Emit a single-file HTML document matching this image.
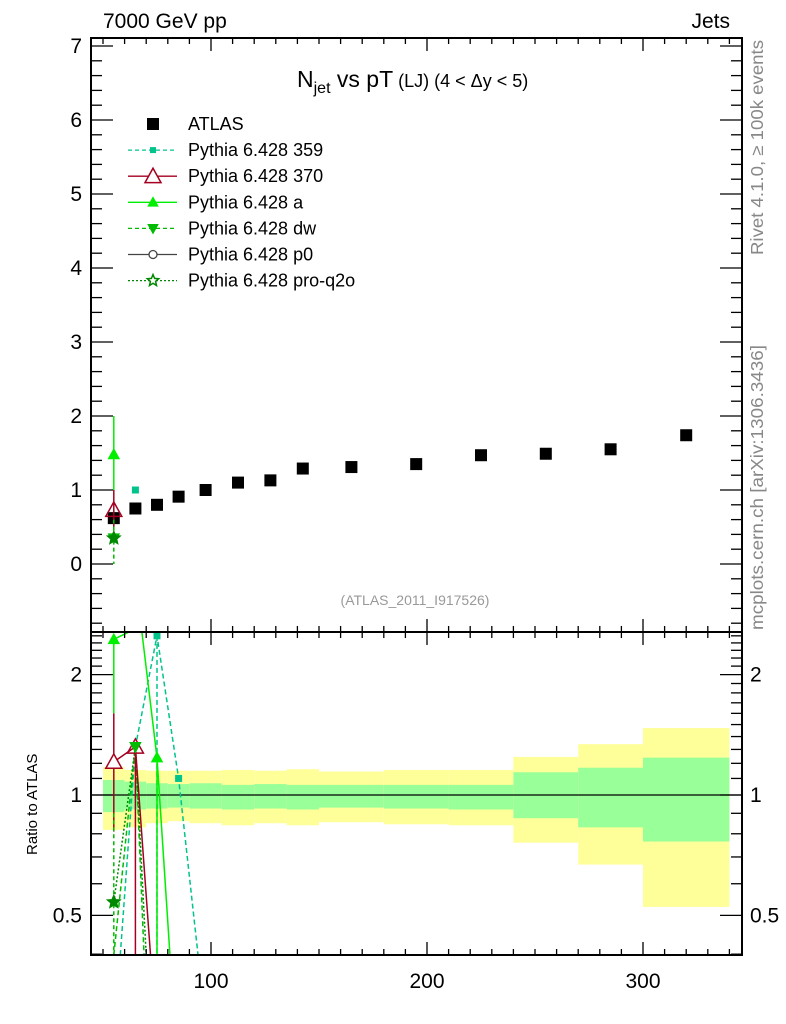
<!DOCTYPE html>
<html><head><meta charset="utf-8"><style>
body{margin:0;background:#fff;}
svg{display:block;font-family:"Liberation Sans",sans-serif;}
</style></head><body>
<svg id="chart" width="786" height="1024" viewBox="0 0 786 1024" xmlns="http://www.w3.org/2000/svg">
<text x="103" y="28" font-size="21">7000 GeV pp</text>
<text x="730" y="28" font-size="21" text-anchor="end">Jets</text>
<text x="297" y="87" font-size="23">N<tspan font-size="16" dy="6">jet</tspan><tspan dy="-6"> vs pT</tspan><tspan font-size="18"> (LJ) (4 &lt; Δy &lt; 5)</tspan></text>
<text transform="translate(763,255) rotate(-90)" font-size="17.5" fill="#888" textLength="215" lengthAdjust="spacingAndGlyphs">Rivet 4.1.0, ≥ 100k events</text>
<text transform="translate(763,630) rotate(-90)" font-size="17.5" fill="#888" textLength="285" lengthAdjust="spacingAndGlyphs">mcplots.cern.ch [arXiv:1306.3436]</text>
<text x="415" y="605" font-size="14" fill="#999" text-anchor="middle">(ATLAS_2011_I917526)</text>
<text transform="translate(37,855) rotate(-90)" font-size="15">Ratio to ATLAS</text>
<g id="bands"></g><g id="marks"></g><g id="axes"></g><g id="legend"></g>
</svg>
<script>
// data
const binEdges=[50,60,70,80,90,105,120,135,150,180,210,240,270,300,340];
const binCenters=[55,65,75,85,97.5,112.5,127.5,142.5,165,195,225,255,285,320];
const atlasValues=[0.62,0.75,0.80,0.91,1.00,1.10,1.13,1.29,1.31,1.35,1.47,1.49,1.55,1.74];
const yellowUp=[1.175,1.155,1.15,1.15,1.15,1.155,1.15,1.16,1.145,1.155,1.155,1.245,1.34,1.47];
const yellowDn=[0.818,0.83,0.85,0.86,0.85,0.84,0.85,0.84,0.855,0.845,0.84,0.76,0.67,0.525];
const greenUp=[1.09,1.08,1.07,1.065,1.07,1.06,1.065,1.06,1.06,1.06,1.06,1.14,1.17,1.24];
const greenDn=[0.906,0.92,0.925,0.93,0.925,0.92,0.925,0.92,0.93,0.925,0.92,0.875,0.83,0.765];
// MC main-panel points
const mcMainX=[55,55,55,55,65];
const mcMainY=[1.48,0.73,0.35,0.35,1.0];
// ratio polylines (x, ratio); values below axis clipped
const r359X=[58,65,75,85,94];const r359Y=[0.3,1.32,2.5,1.1,0.3];
const r370X=[55,65,72];const r370Y=[1.21,1.32,0.3];
const raX=[55,62,68,75,81];const raY=[2.45,2.7,2.7,1.24,0.3];
const rdwX=[55,65,69];const rdwY=[0.3,1.32,0.3];
const rq2oX=[55,65,70];const rq2oY=[0.54,1.32,0.3];

const NS="http://www.w3.org/2000/svg";
const L=91,R=742,T1=38,B1=632,T2=632,B2=955;
const xs=v=>211+(v-100)*2.16;
const ym=v=>564-v*74;
const yr=v=>Math.max(T2,Math.min(B2,795-400*Math.log10(v)));
function mk(p,tag,a){const e=document.createElementNS(NS,tag);for(const k in a)e.setAttribute(k,a[k]);p.appendChild(e);return e;}
const bands=document.getElementById('bands'),marks=document.getElementById('marks'),axes=document.getElementById('axes'),leg=document.getElementById('legend');
for(let i=0;i<binCenters.length;i++){
 let e=mk(bands,'rect',{x:xs(binEdges[i]),y:yr(yellowUp[i]),width:xs(binEdges[i+1])-xs(binEdges[i]),height:yr(yellowDn[i])-yr(yellowUp[i]),fill:'#ffff99'});
 
 
 e=mk(bands,'rect',{x:xs(binEdges[i]),y:yr(greenUp[i]),width:xs(binEdges[i+1])-xs(binEdges[i]),height:yr(greenDn[i])-yr(greenUp[i]),fill:'#99ff99'});
 
 
}
mk(bands,'line',{x1:L,x2:R,y1:yr(1),y2:yr(1),stroke:'#000','stroke-width':1.2});
// ATLAS points
for(let i=0;i<binCenters.length;i++){
 const e=mk(marks,'rect',{x:xs(binCenters[i])-6,y:ym(atlasValues[i])-6,width:12,height:12,fill:'#000'});
 
 
}
// main MC error bars
mk(marks,'line',{x1:xs(55),x2:xs(55),y1:ym(2.0),y2:ym(1.0),stroke:'#00ee00','stroke-width':1.5});
mk(marks,'line',{x1:xs(55),x2:xs(55),y1:ym(1.0),y2:ym(0.5),stroke:'#a50021','stroke-width':1.5});
mk(marks,'line',{x1:xs(55),x2:xs(55),y1:ym(0.6),y2:ym(0),stroke:'#00bb00','stroke-width':1.5,'stroke-dasharray':'4,3'});
function tri(p,x,y,s,fill,stroke,down){const d=down?-1:1;return mk(p,'polygon',{points:`${x-s},${y+s*0.8*d} ${x+s},${y+s*0.8*d} ${x},${y-s*d}`,fill:fill,stroke:stroke,'stroke-width':1.5});}
function star(p,x,y,s,c){let pts=[];for(let k=0;k<10;k++){const r=k%2?s*0.45:s,a=-Math.PI/2+k*Math.PI/5;pts.push((x+r*Math.cos(a)).toFixed(1)+','+(y+r*Math.sin(a)).toFixed(1));}return mk(p,'polygon',{points:pts.join(' '),fill:c,stroke:c,'stroke-width':1});}
let e=tri(marks,xs(mcMainX[0]),ym(mcMainY[0]),5,'#00ee00','#00ee00');


e=tri(marks,xs(mcMainX[1]),ym(mcMainY[1]),8,'none','#a50021');


e=tri(marks,xs(mcMainX[2]),ym(mcMainY[2]),5,'#00bb00','#00bb00',true);


e=star(marks,xs(mcMainX[3]),ym(mcMainY[3]),7,'#008800');


e=mk(marks,'rect',{x:xs(mcMainX[4])-3.5,y:ym(mcMainY[4])-3.5,width:7,height:7,fill:'#00c48c'});


// ratio lines
function poly(X,Y,c,dash,name){const pts=X.map((x,i)=>xs(x)+','+yr(Y[i])).join(' ');const p=mk(marks,'polyline',{points:pts,fill:'none',stroke:c,'stroke-width':1.5,'stroke-dasharray':dash});}
poly(r359X,r359Y,'#00c48c','5,3','ratio-359-line');
mk(marks,'line',{x1:xs(75),x2:xs(75),y1:yr(2.5),y2:B2,stroke:'#00c48c','stroke-width':1.5,'stroke-dasharray':'5,3'});
poly(rdwX,rdwY,'#00bb00','5,3','ratio-dw-line');
poly(rq2oX,rq2oY,'#008800','2,2','ratio-q2o-line');
poly(r370X,r370Y,'#a50021','','ratio-370-line');
poly(raX,raY,'#00ee00','','ratio-a-line');
mk(marks,'line',{x1:xs(55),x2:xs(55),y1:yr(2.45),y2:yr(1.6),stroke:'#00ee00','stroke-width':1.5});
mk(marks,'line',{x1:xs(55),x2:xs(55),y1:yr(1.6),y2:yr(0.81),stroke:'#a50021','stroke-width':1.5});
mk(marks,'line',{x1:xs(55),x2:xs(55),y1:yr(0.9),y2:B2,stroke:'#00bb00','stroke-width':1.5,'stroke-dasharray':'4,3'});
mk(marks,'line',{x1:xs(65),x2:xs(65),y1:yr(1.32),y2:B2,stroke:'#a50021','stroke-width':1.5});
mk(marks,'line',{x1:xs(75),x2:xs(75),y1:yr(1.24),y2:B2,stroke:'#00ee00','stroke-width':1.5});
tri(marks,xs(55),yr(2.45),5,'#00ee00','#00ee00');
tri(marks,xs(75),yr(1.24),5,'#00ee00','#00ee00');
tri(marks,xs(55),yr(1.21),8,'#fff','#a50021');
tri(marks,xs(65),yr(1.32),8,'none','#a50021');
tri(marks,xs(65),yr(1.32),5,'#00bb00','#00bb00',true);
star(marks,xs(55),yr(0.54),7,'#008800');
mk(marks,'rect',{x:xs(75)-3.5,y:yr(2.5)-3.5,width:7,height:7,fill:'#00c48c'});
mk(marks,'rect',{x:xs(85)-3.5,y:yr(1.1)-3.5,width:7,height:7,fill:'#00c48c'});
// frames
for(const [t,b,n] of [[T1,B1,'main-frame'],[T2,B2,'ratio-frame']]){const f=mk(axes,'rect',{x:L,y:t,width:R-L,height:b-t,fill:'none',stroke:'#000','stroke-width':2});}
// x ticks
for(let v=50;v<=340;v+=10){const maj=v%100===0,len=maj?13:6,x=xs(v);
 for(const y0 of [T1,T2]) mk(axes,'line',{x1:x,x2:x,y1:y0,y2:y0+len,stroke:'#000','stroke-width':1.3});
 for(const y0 of [B1,B2]) mk(axes,'line',{x1:x,x2:x,y1:y0,y2:y0-len,stroke:'#000','stroke-width':1.3});
 if(maj){const t=mk(axes,'text',{x:x,y:988,'font-size':21,'text-anchor':'middle'});t.textContent=v;}
}
// main y ticks
for(let k=-4;k<=35;k++){const v=k*0.2,y=ym(v);if(y<T1||y>B1)continue;const maj=k%5===0,len=maj?22:11;
 mk(axes,'line',{x1:L,x2:L+len,y1:y,y2:y,stroke:'#000','stroke-width':1.3});
 mk(axes,'line',{x1:R,x2:R-len,y1:y,y2:y,stroke:'#000','stroke-width':1.3});
 if(maj){const t=mk(axes,'text',{x:82,y:y+7,'font-size':21,'text-anchor':'end'});t.textContent=Math.round(v);}
}
// ratio y ticks (log)
const rTicks=[0.4,0.5,0.6,0.7,0.8,0.9,1,1.1,1.2,1.3,1.4,1.5,1.6,1.7,1.8,1.9,2,2.1,2.2,2.3,2.4,2.5];
for(const v of rTicks){const y=yr(v);const maj=(v===0.5||v===1||v===2),len=maj?22:11;
 mk(axes,'line',{x1:L,x2:L+len,y1:y,y2:y,stroke:'#000','stroke-width':1.3});
 mk(axes,'line',{x1:R,x2:R-len,y1:y,y2:y,stroke:'#000','stroke-width':1.3});
 if(maj){let t=mk(axes,'text',{x:82,y:y+7,'font-size':21,'text-anchor':'end'});t.textContent=v;
  t=mk(axes,'text',{x:750,y:y+7,'font-size':21});t.textContent=v;}
}
// legend
const legNames=['ATLAS','Pythia 6.428 359','Pythia 6.428 370','Pythia 6.428 a','Pythia 6.428 dw','Pythia 6.428 p0','Pythia 6.428 pro-q2o'];
const legColors=['#000','#00c48c','#a50021','#00ee00','#00bb00','#444','#008800'];
const legDash=['','4,3','','','4,3','','2,2'];
legNames.forEach((n,i)=>{const y=124+i*26.1;
 const g=mk(leg,'g',{});
 if(i===0){mk(g,'rect',{x:147,y:y-6,width:12,height:12,fill:'#000'});}
 else{mk(g,'line',{x1:128,x2:177,y1:y,y2:y,stroke:legColors[i],'stroke-width':1.3,'stroke-dasharray':legDash[i]});
  if(i===1)mk(g,'rect',{x:150,y:y-3,width:6,height:6,fill:legColors[i]});
  if(i===2)tri(g,153,y,8,'#fff',legColors[i]);
  if(i===3)tri(g,153,y,4.5,legColors[i],legColors[i]);
  if(i===4)tri(g,153,y,4.5,legColors[i],legColors[i],true);
  if(i===5)mk(g,'circle',{cx:153,cy:y,r:4,fill:'#fff',stroke:legColors[i],'stroke-width':1.3});
  if(i===6){const s=star(g,153,y,6,'#fff');s.setAttribute('stroke',legColors[i]);s.setAttribute('stroke-width',1.5);}
 }
 const t=mk(g,'text',{x:188,y:y+6,'font-size':18});t.textContent=n;
});
</script>
</body></html>
